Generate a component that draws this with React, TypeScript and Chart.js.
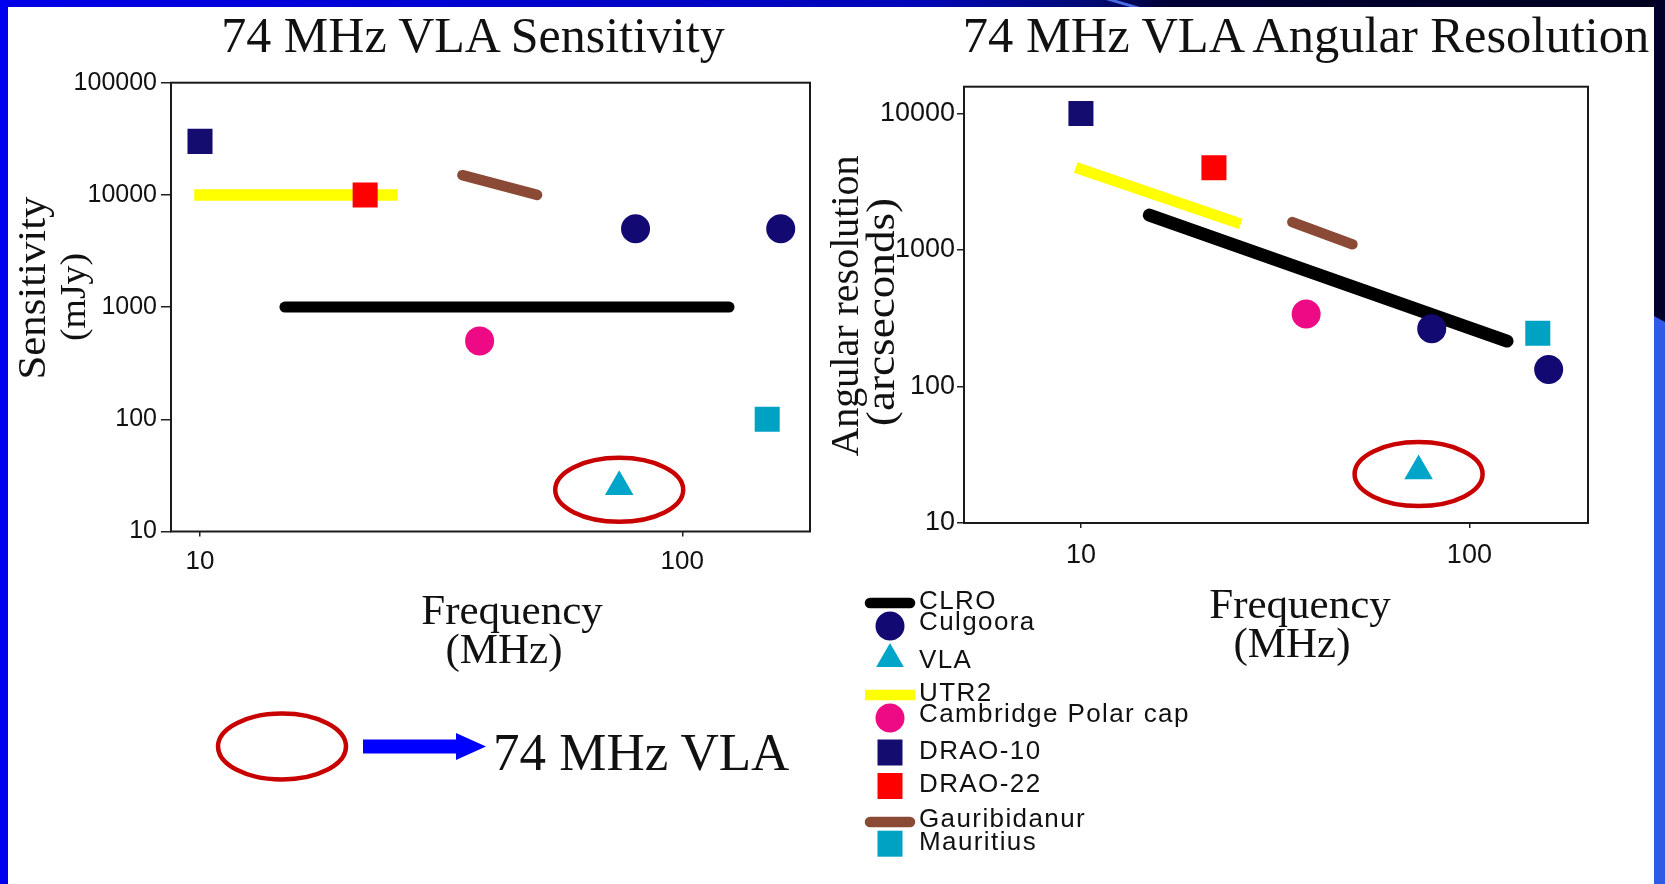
import React, { useEffect, useRef } from 'react';
import { Chart, registerables } from 'chart.js';

Chart.register(...registerables);

// ---------------- data ----------------
const seriesNames = ['CLRO', 'Culgoora', 'VLA', 'UTR2', 'Cambridge Polar cap', 'DRAO-10', 'DRAO-22', 'Gauribidanur', 'Mauritius'];

// Sensitivity (mJy) against frequency (MHz)
const sensFrequency = [[15, 125], [80, 160], [74], [10, 25], [38], [10], [22], [35, 50], [150]];
const sensValue = [[1000, 1000], [5000, 5000], [25], [10000, 10000], [500], [30000], [10000], [15000, 10000], [100]];

// Angular resolution (arcseconds) against frequency (MHz)
const resFrequency = [[15, 125], [80, 160], [74], [10, 25], [38], [10], [22], [35, 50], [150]];
const resValue = [[1800, 215], [265, 133], [24], [3900, 1600], [340], [10000], [4000], [1600, 1100], [245]];

const sensYTicks = [10, 100, 1000, 10000, 100000];
const sensXTicks = [10, 100];
const resYTicks = [10, 100, 1000, 10000];
const resXTicks = [10, 100];

// ---------------- styles ----------------
const seriesStyle: any[] = [
  { color: '#000000', kind: 'line', cap: 'round' },
  { color: '#120a72', kind: 'circle' },
  { color: '#00a5c9', kind: 'triangle' },
  { color: '#ffff00', kind: 'line', cap: 'square' },
  { color: '#ee0a84', kind: 'circle' },
  { color: '#150c70', kind: 'rect' },
  { color: '#ff0000', kind: 'rect' },
  { color: '#8b4a36', kind: 'line', cap: 'round' },
  { color: '#00a2c4', kind: 'rect' },
];
const sensLineWidth = [11, 0, 0, 11.5, 0, 0, 0, 10.5, 0];
const resLineWidth = [13, 0, 0, 11, 0, 0, 0, 10.5, 0];
const markerRadius: any = { circle: 14.5, triangle: 16.5, rect: 17.7 };

const SERIF = "'Liberation Serif', 'Times New Roman', serif";
const SANS = "'Liberation Sans', Arial, sans-serif";

const framePlugin = {
  id: 'frame',
  beforeDatasetsDraw(chart: any) {
    const { ctx, chartArea: a } = chart;
    ctx.save();
    ctx.strokeStyle = '#1a1a1a';
    ctx.lineWidth = 2;
    ctx.strokeRect(a.left, a.top, a.right - a.left, a.bottom - a.top);
    ctx.restore();
  },
};

const ringPlugin = {
  id: 'vlaRing',
  afterDatasetsDraw(chart: any, _args: any, opts: any) {
    const meta = chart.getDatasetMeta(opts.datasetIndex);
    const pt = meta && meta.data[0];
    if (!pt) return;
    const ctx = chart.ctx;
    ctx.save();
    ctx.beginPath();
    ctx.ellipse(pt.x + opts.dx, pt.y + opts.dy, opts.rx, opts.ry, 0, 0, Math.PI * 2);
    ctx.strokeStyle = opts.color;
    ctx.lineWidth = opts.width;
    ctx.stroke();
    ctx.restore();
  },
};

function LogChart({ spec }: { spec: any }) {
  const ref = useRef<HTMLCanvasElement>(null);
  useEffect(() => {
    const canvas = ref.current;
    if (!canvas) return;
    const datasets = seriesNames.map((name, i) => {
      const st = seriesStyle[i];
      const data = spec.freq[i].map((f: number, j: number) => ({ x: f, y: spec.values[i][j] }));
      if (st.kind === 'line') {
        return {
          label: name, data, showLine: true, borderColor: st.color, backgroundColor: st.color,
          borderWidth: spec.lineWidths[i], borderCapStyle: st.cap, pointRadius: 0, pointHoverRadius: 0, order: 1,
        };
      }
      return {
        label: name, data, showLine: false, pointStyle: st.kind, pointRadius: markerRadius[st.kind],
        pointHoverRadius: markerRadius[st.kind], pointBackgroundColor: st.color, pointBorderColor: st.color,
        pointBorderWidth: 0, borderWidth: 0, order: 0,
      };
    });
    const chart = new Chart(canvas, {
      type: 'scatter',
      data: { datasets } as any,
      options: {
        responsive: false,
        maintainAspectRatio: false,
        animation: false,
        events: [],
        layout: { padding: spec.padding },
        plugins: {
          legend: { display: false },
          tooltip: { enabled: false },
          vlaRing: { datasetIndex: 2, dx: 0, dy: 3, rx: 64, ry: 32, color: '#c80000', width: 4.5 },
        } as any,
        scales: {
          x: {
            type: 'logarithmic', position: 'bottom', min: spec.xMin, max: spec.xMax,
            afterBuildTicks: (s: any) => { s.ticks = spec.xTicks.map((v: number) => ({ value: v })); },
            afterFit: (s: any) => { s.height = spec.xAxisHeight; },
            ticks: {
              callback: (v: any) => String(v), autoSkip: false, maxRotation: 0, minRotation: 0,
              font: { family: SANS, size: spec.xTickFont }, color: '#111', padding: spec.xTickPad,
            },
            grid: { drawOnChartArea: false, drawTicks: true, tickLength: spec.xTickLen, color: '#222', lineWidth: 1.5 },
            border: { display: false },
          },
          y: {
            type: 'logarithmic', position: 'left', min: spec.yMin, max: spec.yMax,
            afterBuildTicks: (s: any) => { s.ticks = spec.yTicks.map((v: number) => ({ value: v })); },
            afterFit: (s: any) => { s.width = spec.yAxisWidth; },
            ticks: {
              callback: (v: any) => String(v), autoSkip: false,
              font: { family: SANS, size: spec.yTickFont }, color: '#111', padding: spec.yTickPad,
            },
            grid: { drawOnChartArea: false, drawTicks: true, tickLength: spec.yTickLen, color: '#222', lineWidth: 1.5 },
            border: { display: false },
          },
        } as any,
      },
      plugins: [framePlugin, ringPlugin],
    });
    return () => chart.destroy();
  }, [spec]);
  const b = spec.box;
  return (
    <canvas
      ref={ref}
      width={b.width}
      height={b.height}
      style={{ position: 'absolute', left: b.left, top: b.top, width: b.width, height: b.height, zIndex: 1 }}
    />
  );
}

const sensSpec = {
  box: { left: 0, top: 0, width: 830, height: 600 },
  padding: { left: 51, top: 82.7, right: 20, bottom: 18.5 },
  yAxisWidth: 120, xAxisHeight: 50,
  xMin: 8.707, xMax: 184, yMin: 10, yMax: 100000,
  xTicks: sensXTicks, yTicks: sensYTicks,
  freq: sensFrequency, values: sensValue, lineWidths: sensLineWidth,
  yTickFont: 25, xTickFont: 26, yTickLen: 10, xTickLen: 5, yTickPad: 4, xTickPad: 10,
};

const resSpec = {
  box: { left: 830, top: 0, width: 835, height: 600 },
  padding: { left: 14, top: 86.7, right: 77, bottom: 27 },
  yAxisWidth: 120, xAxisHeight: 50,
  xMin: 5, xMax: 202, yMin: 10, yMax: 15700,
  xTicks: resXTicks, yTicks: resYTicks,
  freq: resFrequency, values: resValue, lineWidths: resLineWidth,
  yTickFont: 27, xTickFont: 27, yTickLen: 7, xTickLen: 5, yTickPad: 2, xTickPad: 11,
};

// legend layout (pixel rows)
const legendSymbolY = [603, 626, 659, 695, 718, 752.5, 786, 822, 843.7];
const legendTextY = [609, 630, 668, 701, 722, 759, 791.5, 827, 850];

function LegendSymbol({ i, y }: { i: number; y: number }) {
  const st = seriesStyle[i];
  const cx = 890;
  if (st.kind === 'line') {
    return <line x1={st.cap === 'square' ? 865 : 870} x2={st.cap === 'square' ? 915 : 910} y1={y} y2={y} stroke={st.color} strokeWidth={10.5} strokeLinecap={st.cap === 'square' ? 'butt' : 'round'} />;
  }
  if (st.kind === 'circle') return <circle cx={cx} cy={y} r={14.5} fill={st.color} />;
  if (st.kind === 'triangle') {
    const r = 16;
    return <polygon points={`${cx},${y - r} ${cx - r * 0.866},${y + r / 2} ${cx + r * 0.866},${y + r / 2}`} fill={st.color} />;
  }
  return <rect x={877.5} y={y - 13} width={25} height={26} fill={st.color} />;
}

export default function App() {
  return (
    <div style={{ position: 'fixed', left: 0, top: 0, width: 1665, height: 884, overflow: 'hidden', background: '#fff' }}>
      <svg width={1665} height={884} style={{ position: 'absolute', left: 0, top: 0, zIndex: 0 }}>
        <defs>
          <linearGradient id="topg" x1="0" x2="1" y1="0" y2="0">
            <stop offset="0" stopColor="#0000e8" />
            <stop offset="0.55" stopColor="#0006b8" />
            <stop offset="0.66" stopColor="#000a70" />
            <stop offset="0.7" stopColor="#000038" />
            <stop offset="1" stopColor="#00001e" />
          </linearGradient>
        </defs>
        <rect x={0} y={0} width={1665} height={884} fill="#ffffff" />
        <rect x={0} y={0} width={1665} height={7} fill="url(#topg)" />
        <polygon points="1106,0 1116,0 1140,7 1130,7" fill="#4a6ae8" />
        <rect x={0} y={0} width={8} height={884} fill="#0000f0" />
        <rect x={1654} y={0} width={11} height={884} fill="#00002a" />
        <polygon points="1654,316 1665,322 1665,884 1654,884" fill="#2e5ae6" />
      </svg>

      <LogChart spec={sensSpec} />
      <LogChart spec={resSpec} />

      <svg width={1665} height={884} style={{ position: 'absolute', left: 0, top: 0, zIndex: 2, pointerEvents: 'none' }}>
        <g fontFamily={SERIF} fill="#111">
          <text x={473} y={52} textAnchor="middle" fontSize={50}>74 MHz VLA Sensitivity</text>
          <text x={1306} y={52} textAnchor="middle" fontSize={50.5}>74 MHz VLA Angular Resolution</text>
          <text x={512} y={624} textAnchor="middle" fontSize={43}>Frequency</text>
          <text x={504} y={663} textAnchor="middle" fontSize={43}>(MHz)</text>
          <text x={1300} y={618} textAnchor="middle" fontSize={43}>Frequency</text>
          <text x={1292} y={657} textAnchor="middle" fontSize={43}>(MHz)</text>
          <text transform="translate(45,288) rotate(-90) scale(1.07,1)" textAnchor="middle" fontSize={40}>Sensitivity</text>
          <text transform="translate(85,297) rotate(-90) scale(1.05,1)" textAnchor="middle" fontSize={36}>(mJy)</text>
          <text transform="translate(858,306) rotate(-90)" textAnchor="middle" fontSize={40}>Angular resolution</text>
          <text transform="translate(894,312) rotate(-90) scale(1.13,1)" textAnchor="middle" fontSize={40}>(arcseconds)</text>
          <text x={493} y={770} fontSize={53}>74 MHz VLA</text>
        </g>

        <ellipse cx={282} cy={746.5} rx={64} ry={33} fill="none" stroke="#c80000" strokeWidth={4.5} />
        <rect x={363} y={739.5} width={95} height={14} fill="#0000ff" />
        <polygon points="456,733 486,746.5 456,760" fill="#0000ff" />

        <g fontFamily={SANS} fontSize={26} fill="#111" letterSpacing={1.4}>
          {seriesNames.map((name, i) => (
            <g key={name}>
              <LegendSymbol i={i} y={legendSymbolY[i]} />
              <text x={919} y={legendTextY[i]}>{name}</text>
            </g>
          ))}
        </g>
      </svg>
    </div>
  );
}
